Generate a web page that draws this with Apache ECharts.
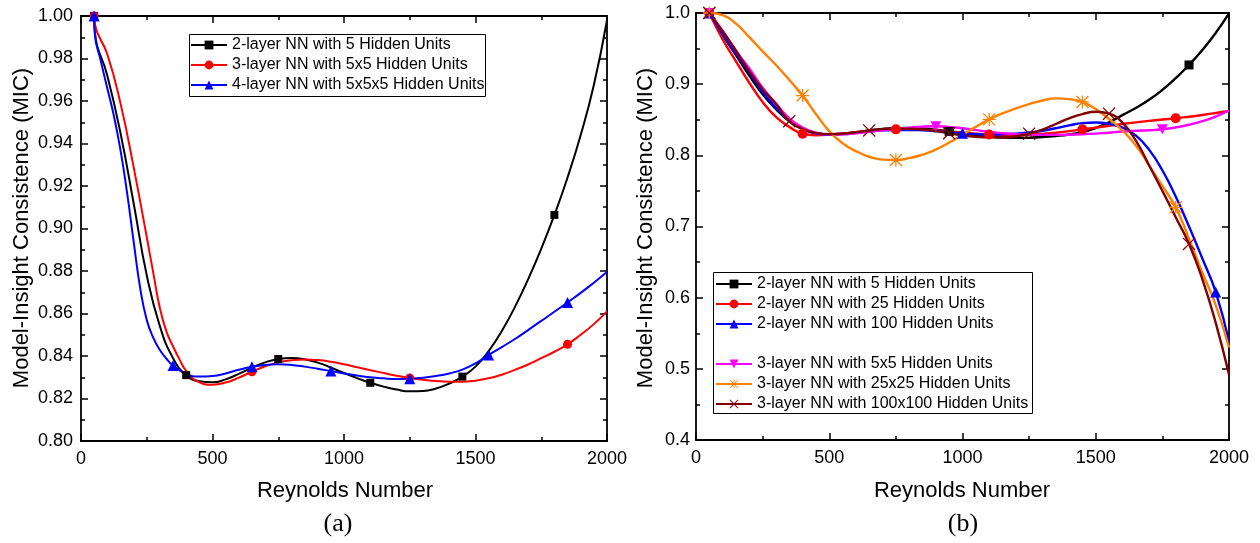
<!DOCTYPE html>
<html><head><meta charset="utf-8">
<script src="https://cdn.jsdelivr.net/npm/echarts@6/dist/echarts.min.js"></script>
<style>html,body{margin:0;padding:0;background:#fff}#c{width:1260px;height:543px}</style>
</head><body><div id="c"></div>
<script>
// ---------- panel (a) ----------
const namesA = ['2-layer NN with 5 Hidden Units','3-layer NN with 5x5 Hidden Units','4-layer NN with 5x5x5 Hidden Units'];
const A_black = [[50,1.000],[53,0.992],[100,0.972],[150,0.945],[200,0.912],[250,0.878],[300,0.854],[350,0.839],[400,0.831],[450,0.8281],[500,0.8276],[550,0.8290],[600,0.8316],[650,0.8345],[700,0.8370],[750,0.8386],[800,0.8391],[850,0.8385],[900,0.8369],[950,0.8346],[1000,0.8320],[1050,0.8296],[1100,0.8274],[1150,0.8256],[1200,0.8242],[1250,0.8234],[1300,0.8235],[1350,0.8247],[1400,0.8270],[1450,0.8303],[1500,0.8350],[1550,0.8423],[1600,0.8518],[1650,0.8631],[1700,0.8761],[1750,0.8905],[1800,0.9064],[1850,0.9240],[1900,0.9440],[1950,0.9675],[2000,0.9980]];
const A_blackMarks = [50,400,750,1100,1450,1800];
const A_red = [[50,1.000],[53,0.996],[100,0.982],[150,0.959],[200,0.929],[250,0.896],[275,0.879],[300,0.8625],[325,0.8515],[350,0.8445],[375,0.8383],[400,0.8330],[450,0.8276],[500,0.8265],[550,0.8275],[600,0.8298],[650,0.8326],[700,0.8352],[750,0.8370],[800,0.8380],[850,0.8384],[900,0.8381],[950,0.8373],[1000,0.8361],[1050,0.8347],[1100,0.8333],[1150,0.8320],[1200,0.8307],[1250,0.8297],[1300,0.8288],[1350,0.8282],[1400,0.8279],[1450,0.8279],[1500,0.8284],[1550,0.8295],[1600,0.8312],[1650,0.8335],[1700,0.8360],[1750,0.8390],[1800,0.8420],[1850,0.8455],[1900,0.8500],[1950,0.8550],[2000,0.8610]];
const A_redMarks = [50,650,1250,1850];
const A_blue = [[50,1.000],[53,0.991],[75,0.979],[100,0.966],[125,0.953],[150,0.937],[175,0.917],[200,0.894],[225,0.872],[250,0.857],[275,0.8485],[300,0.8428],[325,0.8387],[350,0.8355],[400,0.8315],[450,0.8303],[500,0.8306],[550,0.8318],[600,0.8335],[650,0.8349],[700,0.8358],[750,0.8361],[800,0.8358],[850,0.8350],[900,0.8340],[950,0.8329],[1000,0.8318],[1050,0.8308],[1100,0.8300],[1150,0.8295],[1200,0.8292],[1250,0.8293],[1300,0.8298],[1350,0.8306],[1400,0.8318],[1450,0.8336],[1500,0.8365],[1550,0.8405],[1600,0.8442],[1650,0.8480],[1700,0.8522],[1750,0.8565],[1800,0.8608],[1850,0.8652],[1900,0.8697],[1950,0.8745],[2000,0.8795]];
const A_blueMarks = [50,350,650,950,1250,1550,1850];

// ---------- panel (b) ----------
const namesB = ['2-layer NN with 5 Hidden Units','2-layer NN with 25 Hidden Units','2-layer NN with 100 Hidden Units','3-layer NN with 5x5 Hidden Units','3-layer NN with 25x25 Hidden Units','3-layer NN with 100x100 Hidden Units'];
const B_black = [[50,1.000],[100,0.969],[150,0.941],[200,0.912],[250,0.886],[300,0.865],[350,0.848],[400,0.837],[450,0.8310],[500,0.8293],[550,0.8303],[600,0.8325],[650,0.8350],[700,0.8372],[750,0.8383],[800,0.8385],[850,0.8377],[900,0.8360],[950,0.8335],[1000,0.8308],[1050,0.8283],[1100,0.8263],[1150,0.8250],[1200,0.8245],[1250,0.8248],[1300,0.8257],[1350,0.8272],[1400,0.8293],[1450,0.8327],[1500,0.8385],[1550,0.8465],[1600,0.8565],[1650,0.8665],[1700,0.8780],[1750,0.8920],[1800,0.9085],[1850,0.9270],[1900,0.9480],[1950,0.9720],[2000,0.9995]];
const B_blackMarks = [50,950,1850];
const B_red = [[50,1.000],[100,0.963],[150,0.932],[200,0.902],[250,0.875],[300,0.854],[350,0.840],[400,0.8304],[450,0.8283],[500,0.8290],[550,0.8306],[600,0.8325],[650,0.8343],[700,0.8357],[750,0.8365],[800,0.8366],[850,0.8361],[900,0.8350],[950,0.8336],[1000,0.8320],[1050,0.8305],[1100,0.8293],[1150,0.8287],[1200,0.8286],[1250,0.8291],[1300,0.8302],[1350,0.8318],[1400,0.8340],[1450,0.8365],[1500,0.8390],[1550,0.8415],[1600,0.8440],[1650,0.8463],[1700,0.8484],[1750,0.8503],[1800,0.8520],[1850,0.8542],[1900,0.8567],[1950,0.8595],[2000,0.8625]];
const B_redMarks = [50,400,750,1100,1450,1800];
const B_blue = [[50,1.000],[100,0.970],[150,0.943],[200,0.916],[250,0.889],[300,0.867],[350,0.849],[400,0.8370],[450,0.8310],[500,0.8293],[550,0.8298],[600,0.8315],[650,0.8335],[700,0.8350],[750,0.8357],[800,0.8357],[850,0.8351],[900,0.8340],[950,0.8325],[1000,0.8310],[1050,0.8298],[1100,0.8293],[1150,0.8296],[1200,0.8305],[1250,0.8320],[1300,0.8345],[1350,0.8380],[1400,0.8420],[1450,0.8452],[1500,0.8462],[1550,0.8442],[1600,0.8390],[1650,0.8280],[1700,0.8080],[1750,0.7790],[1800,0.7420],[1850,0.7000],[1900,0.6550],[1950,0.6080],[2000,0.5380]];
const B_blueMarks = [50,1000,1950];
const B_magenta = [[50,1.000],[100,0.975],[150,0.947],[200,0.922],[250,0.895],[300,0.873],[350,0.852],[400,0.839],[450,0.8320],[500,0.8292],[550,0.8295],[600,0.8310],[650,0.8330],[700,0.8352],[750,0.8372],[800,0.8390],[850,0.8403],[900,0.8408],[950,0.8400],[1000,0.8380],[1050,0.8355],[1100,0.8330],[1150,0.8310],[1200,0.8297],[1250,0.8290],[1300,0.8287],[1350,0.8287],[1400,0.8290],[1450,0.8296],[1500,0.8305],[1550,0.8317],[1600,0.8335],[1650,0.8345],[1700,0.8352],[1750,0.8366],[1800,0.8392],[1850,0.8430],[1900,0.8480],[1950,0.8545],[2000,0.8630]];
const B_magentaMarks = [50,900,1750];
const B_orange = [[50,1.000],[100,0.997],[150,0.985],[200,0.966],[250,0.946],[300,0.927],[350,0.906],[400,0.884],[450,0.858],[500,0.834],[550,0.817],[600,0.806],[650,0.798],[700,0.794],[750,0.7935],[800,0.796],[850,0.801],[900,0.808],[950,0.818],[1000,0.829],[1050,0.840],[1100,0.8505],[1150,0.859],[1200,0.866],[1250,0.872],[1300,0.877],[1350,0.880],[1400,0.879],[1450,0.875],[1500,0.865],[1550,0.851],[1600,0.835],[1650,0.814],[1700,0.786],[1750,0.757],[1800,0.727],[1850,0.683],[1900,0.635],[1950,0.590],[2000,0.530]];
const B_orangeMarks = [50,400,750,1100,1450,1800];
const B_brown = [[50,1.000],[100,0.974],[150,0.947],[200,0.918],[250,0.893],[300,0.872],[350,0.848],[400,0.8370],[450,0.8315],[500,0.8298],[550,0.8305],[600,0.8325],[650,0.8350],[700,0.8368],[750,0.8375],[800,0.8373],[850,0.8362],[900,0.8340],[950,0.8310],[1000,0.8282],[1050,0.8262],[1100,0.8252],[1150,0.8252],[1200,0.8268],[1250,0.8304],[1300,0.8360],[1350,0.8440],[1400,0.8520],[1450,0.8580],[1500,0.8612],[1550,0.8585],[1600,0.8460],[1650,0.8210],[1700,0.7860],[1750,0.7500],[1800,0.7130],[1850,0.6755],[1900,0.6260],[1950,0.5650],[2000,0.4920]];
const B_brownMarks = [50,350,650,950,1250,1550,1850];

// ---------- styling ----------
const FONT = 'Liberation Sans, Arial, sans-serif';
const ASTER = 'path://M9,0L11,0L11,20L9,20Z M0,9L20,9L20,11L0,11Z M1.5,0.1L19.9,18.5L18.5,19.9L0.1,1.5Z M18.5,0.1L19.9,1.5L1.5,19.9L0.1,18.5Z';
const XMARK = 'path://M1.5,0.1L19.9,18.5L18.5,19.9L0.1,1.5Z M18.5,0.1L19.9,1.5L1.5,19.9L0.1,18.5Z';
const TRI_DOWN = 'path://M0,0L20,0L10,18Z';

const LABELS = {};
function mk(id, label, pts, marks, color, symbol, size, xi, yi, lw) {
  LABELS[id] = label;
  return {
    name:id, type:'line', xAxisIndex:xi, yAxisIndex:yi, smooth:0.5, clip:false,
    showSymbol:true, showAllSymbol:true, symbol, symbolSize:size, symbolKeepAspect:true,
    lineStyle:{color, width:lw}, itemStyle:{color, borderWidth:0},
    emphasis:{disabled:true}, animation:false,
    data: pts.map(p => ({value:p, symbol: marks.indexOf(p[0]) >= 0 ? symbol : 'none'}))
  };
}

function xAx(grid, pos, show) {
  return {gridIndex:grid, type:'value', position:pos, min:0, max:2000, interval:500,
    axisLine:{show:true, onZero:false, lineStyle:{color:'#000', width:1.8}},
    axisTick:{show:true, inside:true, length:7, lineStyle:{color:'#000', width:1.5}},
    minorTick:{show:true, splitNumber:2, length:4, lineStyle:{color:'#000', width:1.5}},
    splitLine:{show:false}, minorSplitLine:{show:false},
    axisLabel:{show:show, color:'#000', fontSize:18, fontFamily:FONT, margin:9, formatter:v => String(v)}};
}
function yAx(grid, pos, show, min, max, step, dec, margin) {
  return {gridIndex:grid, type:'value', position:pos, min, max, interval:step,
    axisLine:{show:true, onZero:false, lineStyle:{color:'#000', width:1.8}},
    axisTick:{show:true, inside:true, length:7, lineStyle:{color:'#000', width:1.5}},
    minorTick:{show:true, splitNumber:2, length:4, lineStyle:{color:'#000', width:1.5}},
    splitLine:{show:false}, minorSplitLine:{show:false},
    axisLabel:{show:show, color:'#000', fontSize:18, fontFamily:FONT, margin, formatter:v => v.toFixed(dec)}};
}

const series = [
  mk('a0', namesA[0], A_black, A_blackMarks, '#000000', 'rect', 8, 0, 0, 2),
  mk('a1', namesA[1], A_red, A_redMarks, '#ff0000', 'circle', 9, 0, 0, 2),
  mk('a2', namesA[2], A_blue, A_blueMarks, '#0000ff', 'triangle', 11, 0, 0, 2),
  mk('b0', namesB[0], B_black, B_blackMarks, '#000000', 'rect', 9, 2, 2, 2.4),
  mk('b1', namesB[1], B_red, B_redMarks, '#ff0000', 'circle', 10, 2, 2, 2.4),
  mk('b2', namesB[2], B_blue, B_blueMarks, '#0000ff', 'triangle', 11, 2, 2, 2.4),
  mk('b3', namesB[3], B_magenta, B_magentaMarks, '#ff00ff', TRI_DOWN, 11, 2, 2, 2.4),
  mk('b4', namesB[4], B_orange, B_orangeMarks, '#ff8000', ASTER, 13, 2, 2, 2.4),
  mk('b5', namesB[5], B_brown, B_brownMarks, '#800000', XMARK, 13, 2, 2, 2.4)
];

const legendText = {fontSize:16, fontFamily:FONT, color:'#000', lineHeight:16};
function lg(ids, left, top) {
  return {data:ids, left, top, orient:'vertical', itemWidth:36, itemHeight:11, itemGap:4,
    padding:0, textStyle:legendText, selectedMode:false, formatter:n => LABELS[n]};
}

const chart = echarts.init(document.getElementById('c'), null, {renderer:'canvas'});
chart.setOption({
  animation:false,
  backgroundColor:'#fff',
  grid:[{left:81, top:16, width:526, height:425}, {left:696, top:13, width:533, height:427}],
  xAxis:[xAx(0,'bottom',true), xAx(0,'top',false), xAx(1,'bottom',true), xAx(1,'top',false)],
  yAxis:[yAx(0,'left',true,0.80,1.00,0.02,2,8), yAx(0,'right',false,0.80,1.00,0.02,2,8),
         yAx(1,'left',true,0.4,1.0,0.1,1,6), yAx(1,'right',false,0.4,1.0,0.1,1,6)],
  legend:[lg(['a0','a1','a2'],190,37), lg(['b0','b1','b2'],715,276), lg(['b3','b4','b5'],715,356)],
  series,
  graphic:[
    {type:'rect', shape:{x:189.5, y:34.5, width:296, height:62}, style:{fill:'none', stroke:'#000', lineWidth:1}, z:10},
    {type:'rect', shape:{x:713.5, y:272.5, width:319, height:141}, style:{fill:'none', stroke:'#000', lineWidth:1}, z:10},
    {type:'text', x:22, y:228, rotation:Math.PI/2, style:{text:'Model-Insight Consistence (MIC)', font:'22px '+FONT, fill:'#000', textAlign:'center', textVerticalAlign:'middle'}},
    {type:'text', x:646, y:228, rotation:Math.PI/2, style:{text:'Model-Insight Consistence (MIC)', font:'22px '+FONT, fill:'#000', textAlign:'center', textVerticalAlign:'middle'}},
    {type:'text', x:345, y:491, style:{text:'Reynolds Number', font:'22px '+FONT, fill:'#000', textAlign:'center', textVerticalAlign:'middle'}},
    {type:'text', x:962, y:491, style:{text:'Reynolds Number', font:'22px '+FONT, fill:'#000', textAlign:'center', textVerticalAlign:'middle'}},
    {type:'text', x:338, y:524, style:{text:'(a)', font:'26px Liberation Serif, Times New Roman, serif', fill:'#000', textAlign:'center', textVerticalAlign:'middle'}},
    {type:'text', x:963, y:524, style:{text:'(b)', font:'26px Liberation Serif, Times New Roman, serif', fill:'#000', textAlign:'center', textVerticalAlign:'middle'}}
  ]
});
</script></body></html>
